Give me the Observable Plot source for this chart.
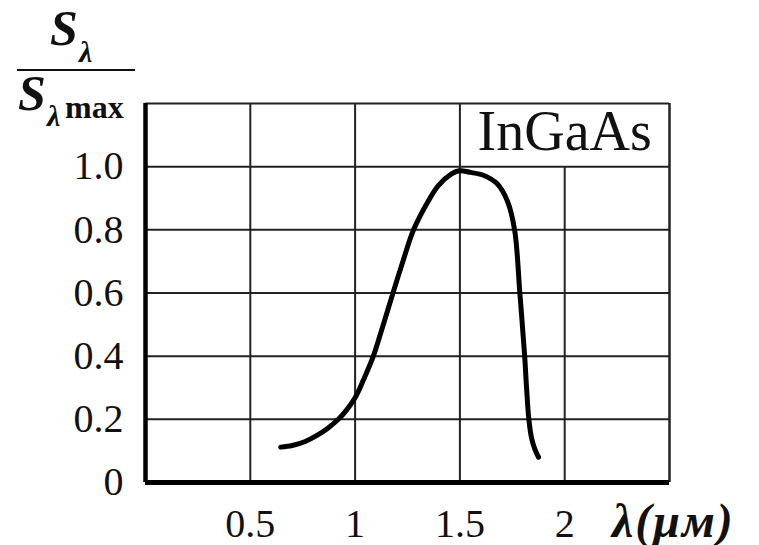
<!DOCTYPE html>
<html><head><meta charset="utf-8">
<script src="https://cdn.jsdelivr.net/npm/d3@7"></script>
<script src="https://cdn.jsdelivr.net/npm/@observablehq/plot@0.6"></script>
<style>
body{margin:0;background:#fff;}
#wrap{position:relative;width:759px;height:545px;}
</style></head><body>
<div id="wrap"></div>
<script>
// Data
const wavelength = [0.645, 0.70, 0.762, 0.82, 0.87, 0.92, 0.96, 1.00, 1.04, 1.087, 1.13, 1.176, 1.228, 1.279, 1.35, 1.397, 1.46, 1.497, 1.55, 1.615, 1.679, 1.726, 1.761, 1.786, 1.809, 1.818, 1.829, 1.842, 1.858, 1.875];
const response   = [0.112, 0.117, 0.130, 0.150, 0.172, 0.200, 0.230, 0.268, 0.325, 0.40, 0.49, 0.59, 0.70, 0.80, 0.892, 0.94, 0.977, 0.987, 0.982, 0.972, 0.945, 0.892, 0.80, 0.60, 0.40, 0.30, 0.20, 0.14, 0.105, 0.08];
const xTicks = [0.5, 1, 1.5, 2];
const xTickLabels = ["0.5", "1", "1.5", "2"];
const yTicks = [0, 0.2, 0.4, 0.6, 0.8, 1.0];
const yTickLabels = ["0", "0.2", "0.4", "0.6", "0.8", "1.0"];
const seriesName = "InGaAs";
const xLabel = "λ(μм)";

const data = wavelength.map((x, i) => ({x, y: response[i]}));
const serif = "'Liberation Serif', 'Times New Roman', serif";
const ink = "#111";

const chart = Plot.plot({
  width: 759, height: 545,
  marginLeft: 145, marginRight: 90, marginTop: 103, marginBottom: 63,
  style: {fontFamily: serif, color: ink, background: "#fff"},
  x: {domain: [0, 2.5]},
  y: {domain: [0, 1.2]},
  marks: [
    // grid
    Plot.ruleX(xTicks, {y1: () => 0, y2: d => d >= 2 ? 1.0 : 1.2, stroke: "#222", strokeWidth: 2}),
    Plot.ruleY(yTicks.filter(d => d > 0), {stroke: "#222", strokeWidth: 2}),
    Plot.ruleY([1.2], {stroke: "#222", strokeWidth: 2}),
    Plot.ruleX([2.5], {stroke: "#222", strokeWidth: 2.5}),
    // axes lines
    Plot.ruleX([0], {stroke: "#000", strokeWidth: 4.5}),
    Plot.ruleY([0], {stroke: "#000", strokeWidth: 5}),
    Plot.axisX(xTicks, {tickSize: 0, tickPadding: 26, fontSize: 40, fontFamily: serif, fill: ink,
      tickFormat: (d, i) => xTickLabels[i], label: null}),
    Plot.axisY(yTicks, {tickSize: 0, tickPadding: 22, fontSize: 40, fontFamily: serif, fill: ink,
      tickFormat: (d, i) => yTickLabels[i], label: null}),
    // curve
    Plot.line(data, {x: "x", y: "y", curve: "catmull-rom", stroke: "#000", strokeWidth: 5, strokeLinecap: "round", strokeLinejoin: "round"}),
    // series name
    Plot.text([seriesName], {x: () => 2, y: () => 1.11, text: d => d, fontSize: 56, fontFamily: serif, fill: ink, textAnchor: "middle", lineAnchor: "middle"})
  ]
});

document.getElementById("wrap").appendChild(chart);

const svg = d3.select(chart);
const g = svg.append("g").attr("fill", ink).attr("font-family", serif).attr("text-anchor", "start");
// x-axis label
g.append("text").attr("x", 612).attr("y", 537).attr("font-size", 48).attr("font-style", "italic").attr("font-weight", "bold")
  .attr("letter-spacing", 2).text(xLabel);
// y-axis title: S_λ / S_λmax
g.append("text").attr("x", 50).attr("y", 45).attr("font-size", 50).attr("font-style", "italic").attr("font-weight", "bold").text("S");
g.append("text").attr("x", 79).attr("y", 62).attr("font-size", 30).attr("font-style", "italic").attr("font-weight", "bold").text("λ");
g.append("line").attr("x1", 17).attr("x2", 135).attr("y1", 70).attr("y2", 70).attr("stroke", ink).attr("stroke-width", 2);
g.append("text").attr("x", 18).attr("y", 110).attr("font-size", 50).attr("font-style", "italic").attr("font-weight", "bold").text("S");
g.append("text").attr("x", 47).attr("y", 126).attr("font-size", 30).attr("font-style", "italic").attr("font-weight", "bold").text("λ");
g.append("text").attr("x", 65).attr("y", 118).attr("font-size", 32).attr("font-weight", "bold").text("max");
</script>
</body></html>
